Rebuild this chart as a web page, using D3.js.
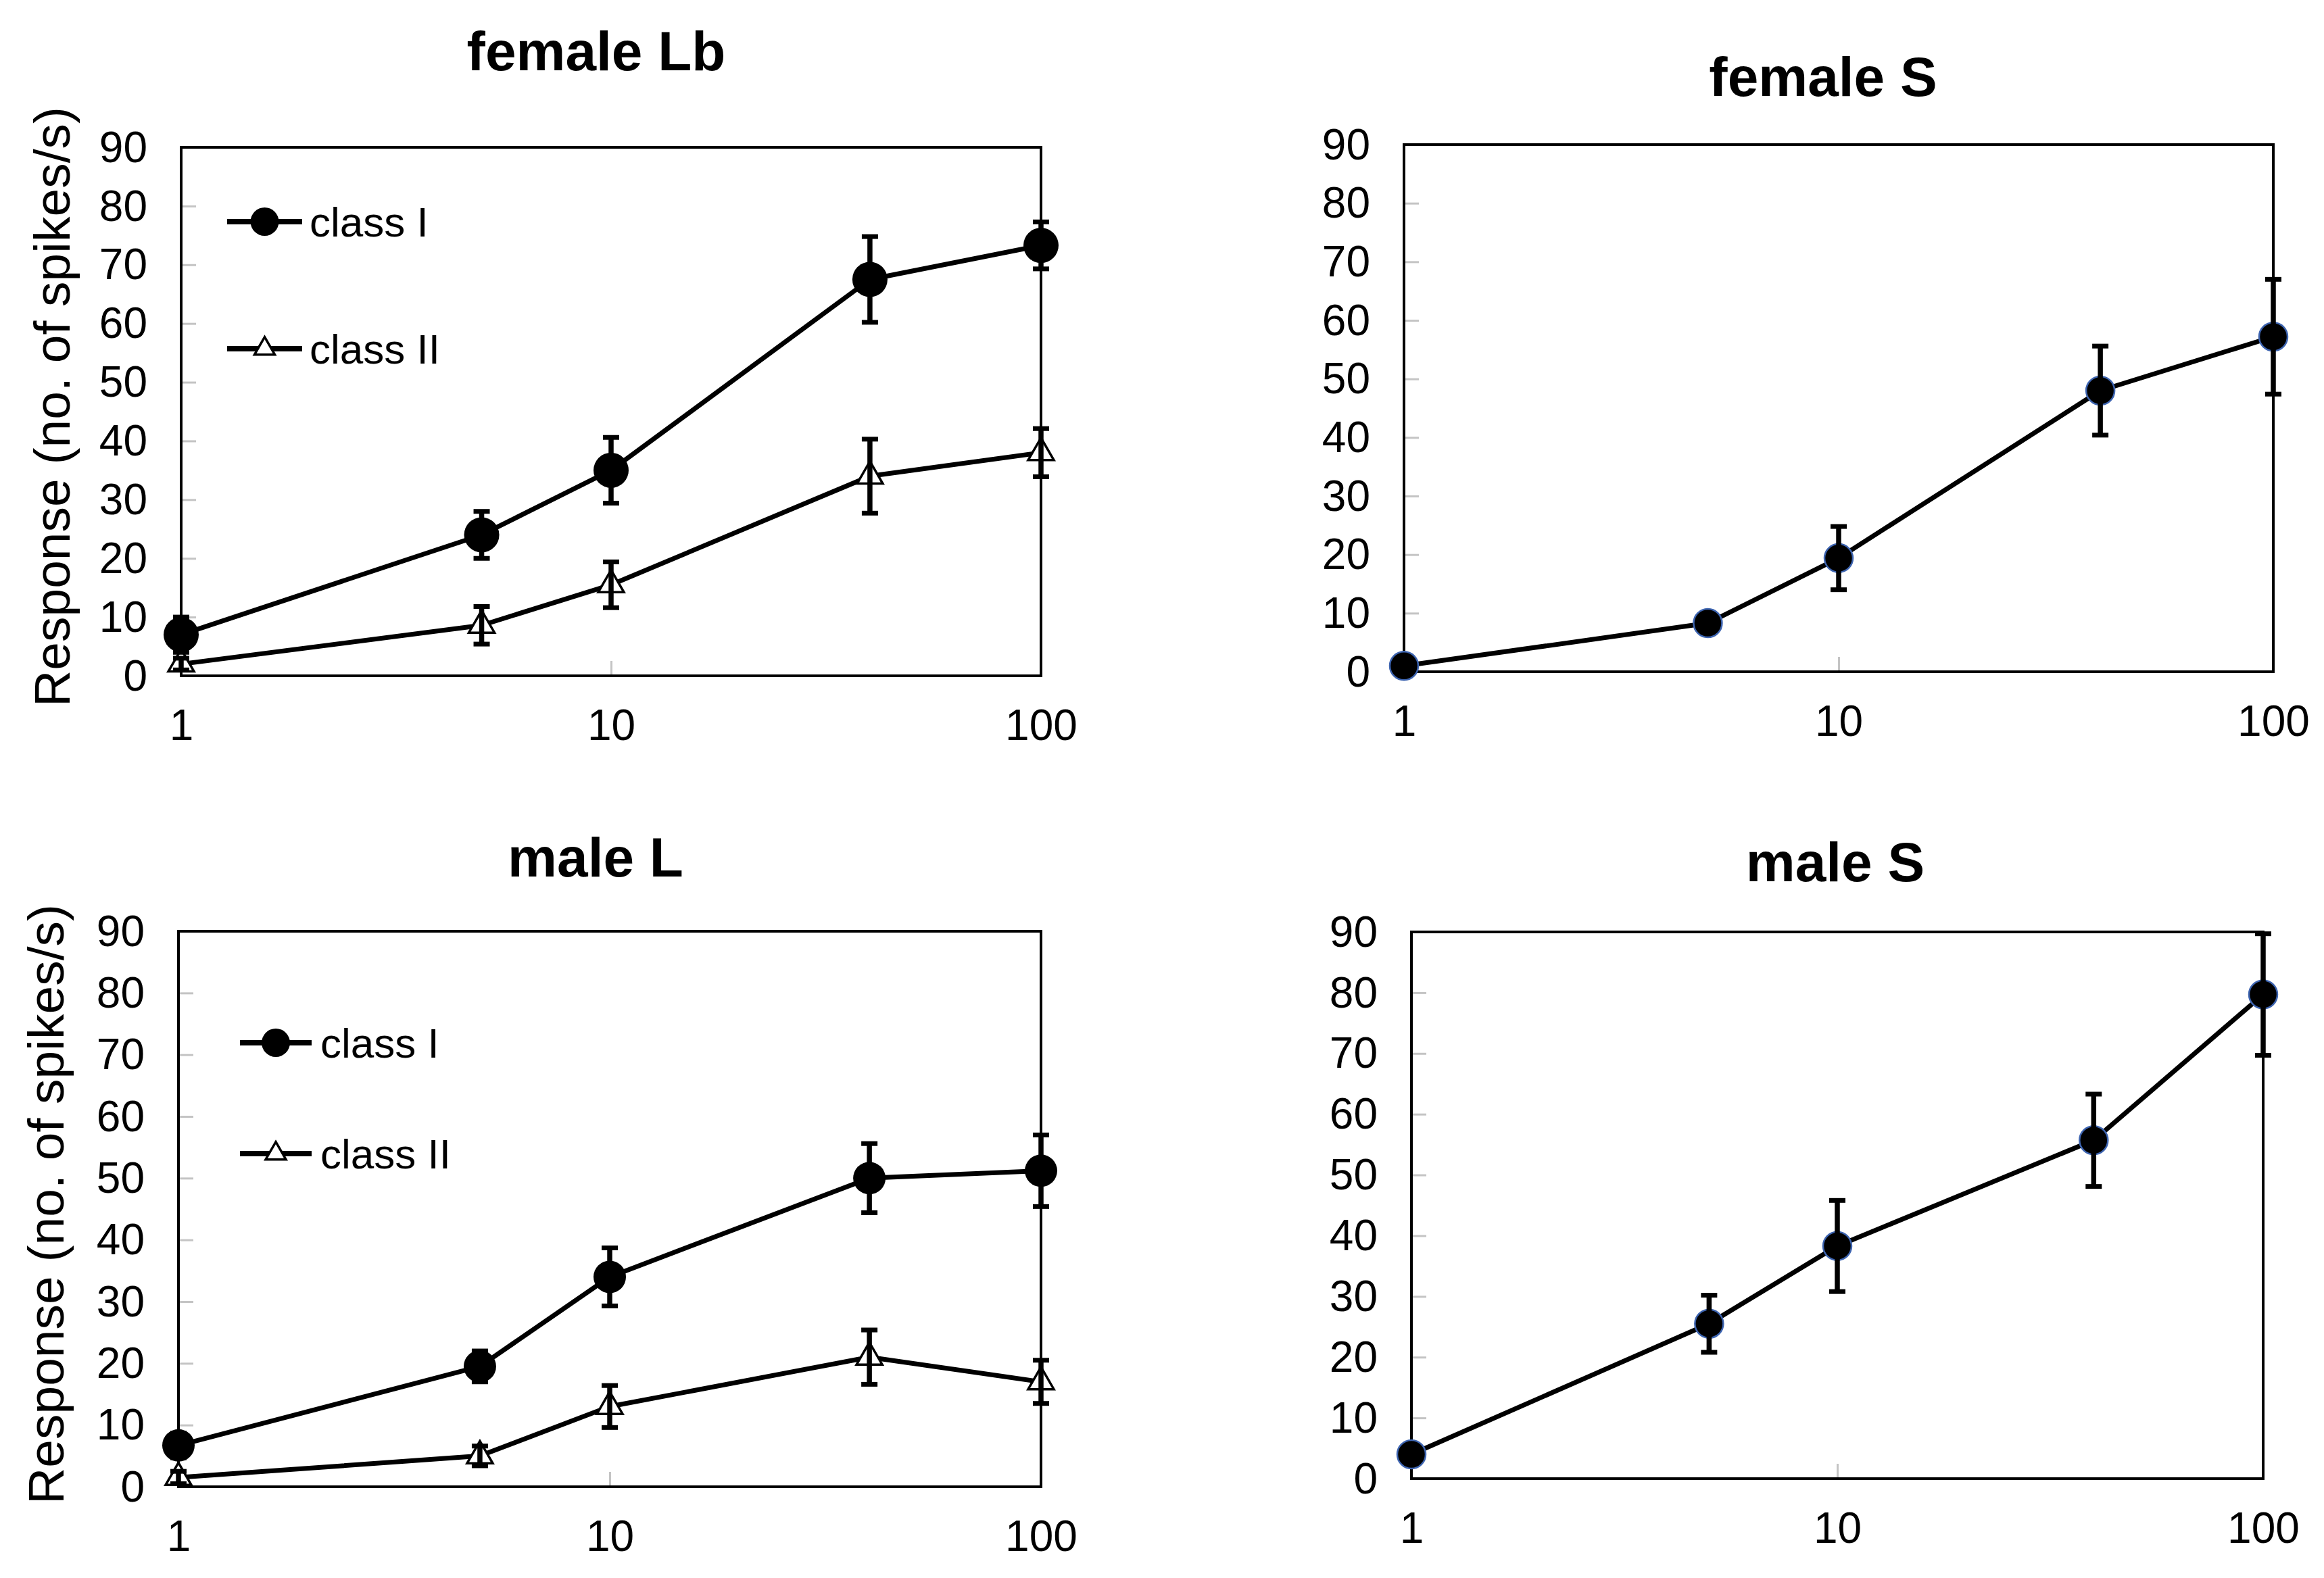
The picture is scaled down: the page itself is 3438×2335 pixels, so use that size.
<!DOCTYPE html>
<html>
<head>
<meta charset="utf-8">
<script src="https://cdn.jsdelivr.net/npm/d3@7"></script>
<style>
  html, body { margin: 0; padding: 0; background: #fff; }
  text { font-family: "Liberation Sans", Arial, sans-serif; fill: #000; }
</style>
</head>
<body>
<script>
// concentrations on the x axis (log scale)
var concentrations = [1, 5, 10, 40, 100];
var xTickValues = [1, 10, 100];
var yTickValues = [0, 10, 20, 30, 40, 50, 60, 70, 80, 90];
var legendLabels = ['class I', 'class II'];
var yAxisLabel = 'Response (no. of spikes/s)';

// female Lb
var femaleLbClassI = [7, 24, 35, 67.5, 73.3];
var femaleLbClassIErr = [3, 4, 5.6, 7.3, 4];
var femaleLbClassII = [2, 8.6, 15.5, 34, 38];
var femaleLbClassIIErr = [1, 3.2, 3.9, 6.3, 4.1];

// female S
var femaleS = [1, 8.3, 19.4, 48, 57.2];
var femaleSErr = [0.5, 0.8, 5.4, 7.6, 9.8];

// male L
var maleLClassI = [6.7, 19.5, 34, 50, 51.2];
var maleLClassIErr = [2, 2.5, 4.7, 5.6, 5.8];
var maleLClassII = [1.5, 5, 13, 21, 17];
var maleLClassIIErr = [1, 1.6, 3.4, 4.4, 3.5];

// male S
var maleS = [4, 25.5, 38.3, 55.7, 79.7];
var maleSErr = [0.8, 4.7, 7.5, 7.6, 10];

var W = 3438, H = 2335;

var svg = d3.select('body')
            .append('svg')
            .attr('width', W)
            .attr('height', H);

// panel layout (pixels)
var panels = [
  { title: 'female Lb', left: 268, top: 218, right: 1540, bottom: 1000,
    titleX: 882, titleY: 104, yLabel: { x: 77, y: 602 },
    legend: { x1: 336, x2: 447, y: [328, 516], textX: 458 },
    series: [
      { values: femaleLbClassI, err: femaleLbClassIErr, marker: 'circle', r: 26 },
      { values: femaleLbClassII, err: femaleLbClassIIErr, marker: 'triangle', r: 19 }
    ] },
  { title: 'female S', left: 2077, top: 214, right: 3363, bottom: 994,
    titleX: 2697, titleY: 142, yLabel: null, legend: null,
    series: [
      { values: femaleS, err: femaleSErr, marker: 'blueCircle', r: 21 }
    ] },
  { title: 'male L', left: 264, top: 1378, right: 1540, bottom: 2200,
    titleX: 881, titleY: 1297, yLabel: { x: 68, y: 1782 },
    legend: { x1: 355, x2: 461, y: [1543, 1707], textX: 474 },
    series: [
      { values: maleLClassI, err: maleLClassIErr, marker: 'circle', r: 24 },
      { values: maleLClassII, err: maleLClassIIErr, marker: 'triangle', r: 19 }
    ] },
  { title: 'male S', left: 2088, top: 1379, right: 3348, bottom: 2188,
    titleX: 2715, titleY: 1304, yLabel: null, legend: null,
    series: [
      { values: maleS, err: maleSErr, marker: 'blueCircle', r: 21 }
    ] }
];

function drawMarker(sel, kind, r) {
  if (kind === 'triangle') {
    var area = Math.sqrt(3) / 4 * Math.pow(r * 2, 2);
    sel.append('path')
       .attr('d', d3.symbol().type(d3.symbolTriangle).size(area))
       .attr('fill', '#fff')
       .attr('stroke', '#000')
       .attr('stroke-width', 3.5);
  } else {
    sel.append('circle')
       .attr('r', r)
       .attr('fill', '#000')
       .attr('stroke', kind === 'blueCircle' ? '#3d64b0' : 'none')
       .attr('stroke-width', 2.5);
  }
}

panels.forEach(function (p) {
  var x = d3.scaleLog().domain([1, 100]).range([p.left, p.right]);
  var y = d3.scaleLinear().domain([0, 90]).range([p.bottom, p.top]);
  var g = svg.append('g');

  // title
  g.append('text')
   .attr('x', p.titleX)
   .attr('y', p.titleY)
   .attr('text-anchor', 'middle')
   .style('font-size', '82px')
   .style('font-weight', 'bold')
   .text(p.title);

  // y axis (ticks inside the frame)
  var yAxis = g.append('g')
               .attr('transform', 'translate(' + p.left + ',0)')
               .call(d3.axisLeft(y).tickValues(yTickValues).tickSizeInner(-22)
                       .tickSizeOuter(0).tickPadding(50).tickFormat(d3.format('d')));
  var xAxis = g.append('g')
               .attr('transform', 'translate(0,' + p.bottom + ')')
               .call(d3.axisBottom(x).tickValues(xTickValues).tickSizeInner(-22)
                       .tickSizeOuter(0).tickPadding(50).tickFormat(d3.format('d')));
  [yAxis, xAxis].forEach(function (a) {
    a.select('.domain').remove();
    a.selectAll('line').attr('stroke', '#c4c4c4').attr('stroke-width', 3);
    a.selectAll('text')
     .style('font-size', '64px')
     .style('font-family', '"Liberation Sans", Arial, sans-serif')
     .attr('fill', '#000');
  });
  yAxis.selectAll('text').attr('dy', '0.33em');

  // frame
  g.append('rect')
   .attr('x', p.left)
   .attr('y', p.top)
   .attr('width', p.right - p.left)
   .attr('height', p.bottom - p.top)
   .attr('fill', 'none')
   .attr('stroke', '#000')
   .attr('stroke-width', 4);

  if (p.yLabel) {
    g.append('text')
     .attr('transform', 'translate(' + p.yLabel.x + ',' + p.yLabel.y + ') rotate(-90)')
     .attr('text-anchor', 'middle')
     .attr('dy', '0.35em')
     .style('font-size', '75px')
     .text(yAxisLabel);
  }

  var line = d3.line()
               .x(function (d, i) { return x(concentrations[i]); })
               .y(function (d) { return y(d); });

  p.series.forEach(function (s) {
    g.append('path')
     .datum(s.values)
     .attr('d', line)
     .attr('fill', 'none')
     .attr('stroke', '#000')
     .attr('stroke-width', 7)
     .attr('stroke-linejoin', 'round');
  });

  p.series.forEach(function (s) {
    s.values.forEach(function (v, i) {
      var m = g.append('g')
               .attr('transform', 'translate(' + x(concentrations[i]) + ',' + y(v) + ')');
      drawMarker(m, s.marker, s.r);
    });
  });

  // error bars on top of markers
  p.series.forEach(function (s) {
    s.values.forEach(function (v, i) {
      var cx = x(concentrations[i]);
      var lo = y(v - s.err[i]), hi = y(v + s.err[i]);
      g.append('line')
       .attr('x1', cx).attr('x2', cx).attr('y1', lo).attr('y2', hi)
       .attr('stroke', '#000').attr('stroke-width', 7.5);
      [lo, hi].forEach(function (yy) {
        g.append('line')
         .attr('x1', cx - 12).attr('x2', cx + 12).attr('y1', yy).attr('y2', yy)
         .attr('stroke', '#000').attr('stroke-width', 7);
      });
    });
  });

  if (p.legend) {
    p.series.forEach(function (s, k) {
      var ly = p.legend.y[k];
      g.append('line')
       .attr('x1', p.legend.x1).attr('x2', p.legend.x2)
       .attr('y1', ly).attr('y2', ly)
       .attr('stroke', '#000').attr('stroke-width', 8);
      var m = g.append('g')
               .attr('transform', 'translate(' + ((p.legend.x1 + p.legend.x2) / 2) + ',' + ly + ')');
      drawMarker(m, s.marker, s.marker === 'triangle' ? 15 : 21);
      g.append('text')
       .attr('x', p.legend.textX)
       .attr('y', ly)
       .attr('dy', '0.35em')
       .style('font-size', '62px')
       .text(legendLabels[k]);
    });
  }
});
</script>
</body>
</html>
